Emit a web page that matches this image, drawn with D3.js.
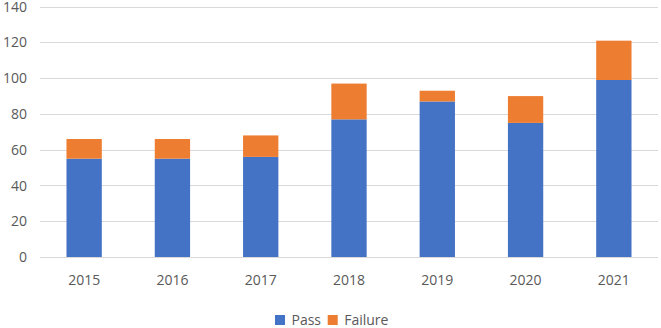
<!DOCTYPE html>
<html><head><meta charset="utf-8">
<script src="https://cdn.jsdelivr.net/npm/d3@7/dist/d3.min.js"></script>
<style>body{margin:0;background:#fff}svg{display:block}text{font-family:"Open Sans",sans-serif;fill:#595959}</style>
</head><body><svg id="c" width="661" height="328"></svg>
<script>
const years = ["2015","2016","2017","2018","2019","2020","2021"];
const pass = [55,55,56,77,87,75,99];
const failure = [11,11,12,20,6,15,22];
const yTicks = [0,20,40,60,80,100,120,140];
const seriesNames = ["Pass","Failure"];
const colors = ["#4472C4","#ED7D31"];

(function(){
const svg = d3.select("#c");
const mL = 40, mR = 658, mT = 6.7, mB = 257;
const x = d3.scaleBand().domain(years).range([mL,mR]).paddingInner(0.6).paddingOuter(0.3);
const y = d3.scaleLinear().domain([0,140]).range([mB,mT]);

svg.append("g").selectAll("line").data(yTicks).join("line")
  .attr("x1",mL).attr("x2",mR)
  .attr("y1",d=>Math.round(y(d))+0.5).attr("y2",d=>Math.round(y(d))+0.5)
  .attr("stroke","#d9d9d9").attr("stroke-width",1);

svg.append("g").selectAll("text").data(yTicks).join("text")
  .attr("x",27).attr("y",d=>y(d)).attr("dy","0.36em").attr("text-anchor","end")
  .attr("font-size",14).text(d=>d);

const rows = years.map((yr,i)=>({year:yr,Pass:pass[i],Failure:failure[i]}));
const stack = d3.stack().keys(seriesNames)(rows);
svg.append("g").selectAll("g").data(stack).join("g").attr("fill",(d,i)=>colors[i])
  .selectAll("rect").data(d=>d).join("rect")
  .attr("x",d=>x(d.data.year)).attr("width",x.bandwidth())
  .attr("y",d=>y(d[1])).attr("height",d=>y(d[0])-y(d[1]));

svg.append("g").selectAll("text").data(years).join("text")
  .attr("x",d=>x(d)+x.bandwidth()/2).attr("y",285).attr("text-anchor","middle")
  .attr("font-size",14).text(d=>d);

const leg = svg.append("g");
const legX = [275,327.7];
seriesNames.forEach((n,i)=>{
  leg.append("rect").attr("x",legX[i]).attr("y",315).attr("width",10).attr("height",10).attr("fill",colors[i]);
  leg.append("text").attr("x",legX[i]+16.5).attr("y",325).attr("font-size",14).text(n);
});
})();
</script></body></html>
